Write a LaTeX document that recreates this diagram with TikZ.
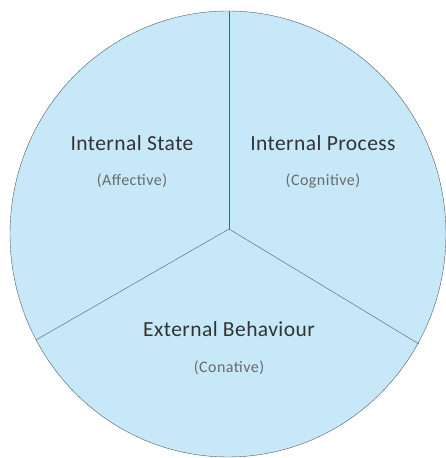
\documentclass[tikz,border=0pt]{standalone}
\usepackage{fontspec}
\setmainfont{Carlito}
\usetikzlibrary{positioning}
\definecolor{pieblue}{RGB}{198,232,248}
\definecolor{pieline}{RGB}{85,90,95}

\begin{document}
\begin{tikzpicture}[x=1pt,y=1pt,node distance=38pt]
 \tikzstyle{every node}=[inner sep=0pt]
 \tikzstyle{title}=[font=\fontsize{21.5}{24}\selectfont\addfontfeature{LetterSpace=2}, text=black!80]
 \tikzstyle{sub}=[font=\fontsize{16}{18}\selectfont\addfontfeature{LetterSpace=3}, text=black!58]
 \useasboundingbox (0,0) rectangle (446,458);
 \filldraw[fill=pieblue, draw=pieline, thin] (228,224) ellipse [x radius=218, y radius=223];
 \coordinate (c) at (229,229);
 \coordinate (top) at (229,447);
 \coordinate (l) at (36,118);
 \coordinate (r) at (419,114);
 \draw[pieline, thin] (c) -- (top);
 \draw[pieline, thin] (c) -- (l);
 \draw[pieline, thin] (c) -- (r);
 \node[title] 	(state)	at (132,315)	{Internal State};
 \node[sub] 	(aff)	[below of=state]	{(Affective)};
 \node[title] 	(proc)	at (323,315)	{Internal Process};
 \node[sub] 	(cog)	[below of=proc]	{(Cognitive)};
 \node[title] 	(beh)	at (229,129)	{External Behaviour};
 \node[sub,node distance=39pt] 	(con)	[below of=beh]	{(Conative)};
\end{tikzpicture}
\end{document}
